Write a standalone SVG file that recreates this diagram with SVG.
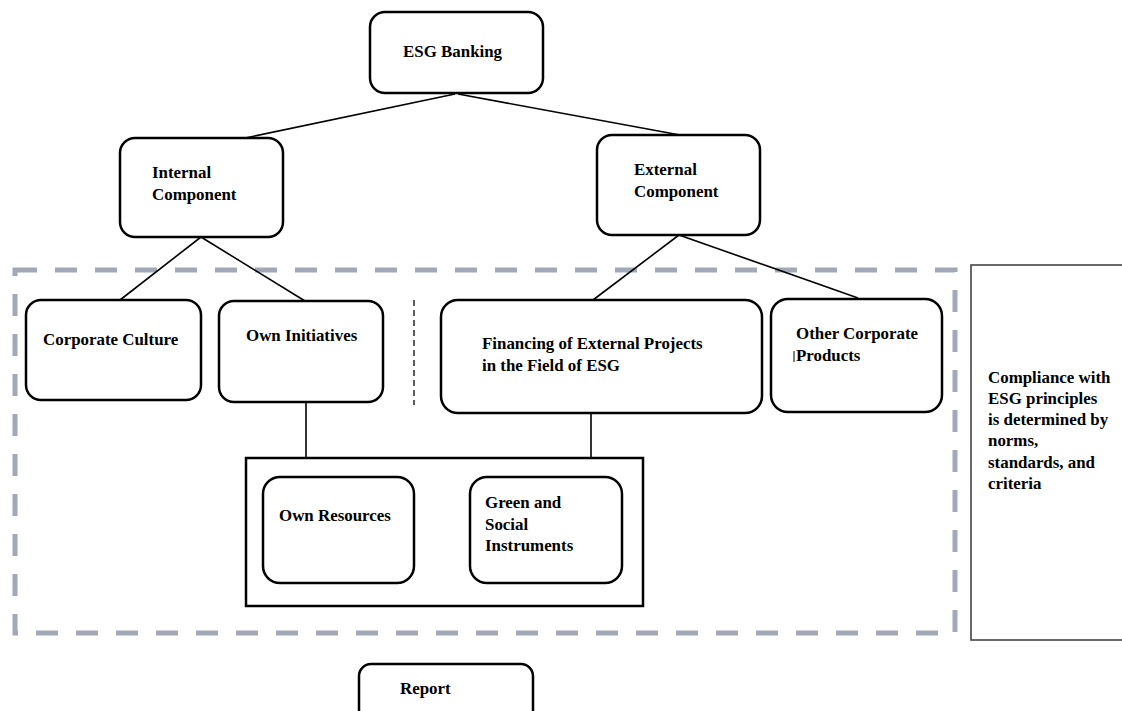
<svg xmlns="http://www.w3.org/2000/svg" width="1122" height="711" viewBox="0 0 1122 711">
<style>
.n{fill:#fff;stroke:#000;stroke-width:2.5}
.t{font-family:"Liberation Serif","Times New Roman",serif;font-weight:bold;font-size:16.9px;fill:#000}
.c{stroke:#000;stroke-width:1.6;fill:none}
</style>
<rect width="1122" height="711" fill="#fff"/>
<rect id="esg-zone" x="15" y="270" width="940" height="363" fill="none" stroke="#a3a8b7" stroke-width="5" stroke-dasharray="22 18"/>
<g id="connectors">
<line class="c" x1="455" y1="94" x2="245" y2="138"/>
<line class="c" x1="458" y1="94" x2="680" y2="135"/>
<line class="c" x1="201" y1="237" x2="120" y2="300"/>
<line class="c" x1="201" y1="237" x2="305" y2="301"/>
<line class="c" x1="679" y1="235" x2="593" y2="300"/>
<line class="c" x1="679" y1="235" x2="858" y2="298"/>
<line class="c" x1="306" y1="402" x2="306" y2="458"/>
<line class="c" x1="591" y1="413" x2="591" y2="458"/>
<line x1="414" y1="300" x2="414" y2="405" stroke="#333" stroke-width="1.6" stroke-dasharray="6 4"/>
</g>
<g id="esg-banking"><rect class="n" x="370" y="12" width="173" height="81" rx="15"/><text class="t" x="403" y="57">ESG Banking</text></g>
<g id="internal"><rect class="n" x="120" y="138" width="163" height="99" rx="15"/><text class="t" x="152" y="178">Internal</text><text class="t" x="152" y="200">Component</text></g>
<g id="external"><rect class="n" x="597" y="135" width="163" height="100" rx="15"/><text class="t" x="634" y="175">External</text><text class="t" x="634" y="197">Component</text></g>
<g id="corporate-culture"><rect class="n" x="26" y="300" width="175" height="100" rx="15"/><text class="t" x="43" y="345">Corporate Culture</text></g>
<g id="own-initiatives"><rect class="n" x="219" y="301" width="164" height="101" rx="15"/><text class="t" x="246" y="341">Own Initiatives</text></g>
<g id="financing"><rect class="n" x="441" y="300" width="321" height="113" rx="17"/><text class="t" x="482" y="349">Financing of External Projects</text><text class="t" x="482" y="371">in the Field of ESG</text></g>
<g id="other-products"><rect class="n" x="771" y="299" width="171" height="113" rx="17"/><text class="t" x="796" y="339">Other Corporate</text><text class="t" x="796" y="361">Products</text><line x1="794" y1="351" x2="794" y2="362" stroke="#000" stroke-width="1"/></g>
<g id="instruments-group"><rect x="246" y="458" width="397" height="148" fill="none" stroke="#000" stroke-width="2.5"/></g>
<g id="own-resources"><rect class="n" x="263" y="477" width="151" height="106" rx="17"/><text class="t" x="279" y="521">Own Resources</text></g>
<g id="green-social"><rect class="n" x="470" y="477" width="152" height="106" rx="17"/><text class="t" x="485" y="508">Green and</text><text class="t" x="485" y="530">Social</text><text class="t" x="485" y="551">Instruments</text></g>
<g id="compliance"><rect x="971" y="265" width="160" height="375" fill="#fff" stroke="#444" stroke-width="1.6"/>
<text class="t" x="988" y="383">Compliance with</text><text class="t" x="988" y="404">ESG principles</text><text class="t" x="988" y="425">is determined by</text><text class="t" x="988" y="446">norms,</text><text class="t" x="988" y="468">standards, and</text><text class="t" x="988" y="489">criteria</text></g>
<g id="report"><rect class="n" x="359" y="664" width="174" height="60" rx="12"/><text class="t" x="400" y="694">Report</text></g>
</svg>
